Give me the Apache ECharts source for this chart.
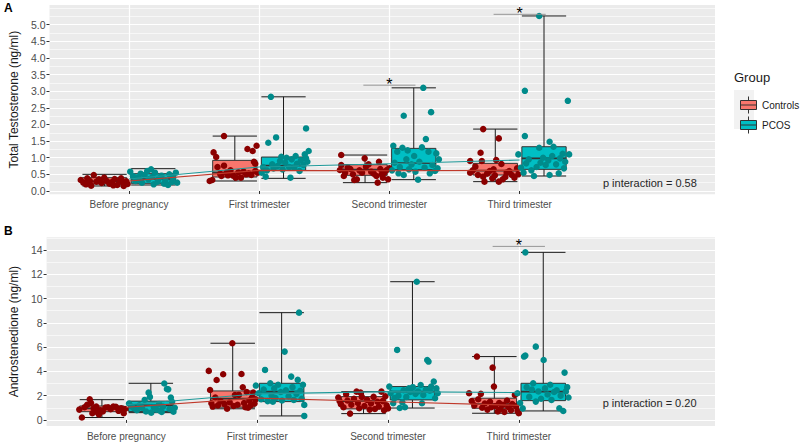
<!DOCTYPE html>
<html><head><meta charset="utf-8">
<script src="https://cdn.jsdelivr.net/npm/echarts@6/dist/echarts.min.js"></script>
<style>html,body{margin:0;padding:0;background:#fff}#c{width:800px;height:444px}</style>
</head><body><div id="c"></div>
<script>
// ---------- data ----------
const categories = ['Before pregnancy', 'First trimester', 'Second trimester', 'Third trimester'];
const groups = ['Controls', 'PCOS'];

// box statistics per category: [min, q1, median, q3, max]
const ttBoxControls = [[0.15,0.21,0.29,0.40,0.50],[0.30,0.42,0.55,0.92,1.65],[0.25,0.47,0.64,0.79,1.08],[0.28,0.48,0.61,0.83,1.86]];
const ttBoxPCOS     = [[0.18,0.23,0.36,0.52,0.67],[0.38,0.62,0.76,1.02,2.83],[0.34,0.64,0.84,1.28,3.10],[0.45,0.65,0.98,1.33,5.26]];
const anBoxControls = [[0.20,0.68,0.95,1.15,1.67],[0.92,1.05,1.75,2.39,6.32],[0.52,0.91,1.55,1.92,2.33],[0.55,0.96,1.30,1.79,5.22]];
const anBoxPCOS     = [[0.60,0.70,1.20,1.55,3.02],[0.33,1.51,2.33,3.02,8.84],[0.98,1.65,2.33,2.75,11.39],[0.74,1.59,2.33,3.02,13.81]];

// group summary lines (value per category)
const ttLineControls = [0.30,0.62,0.61,0.62];
const ttLinePCOS     = [0.36,0.72,0.82,0.93];
const anLineControls = [1.05,1.80,1.50,1.20];
const anLinePCOS     = [1.25,2.15,2.33,2.25];

// jittered observations [x, value]
const ttPtsControls = [
[0.63,0.33],[0.65,0.25],[0.67,0.20],[0.68,0.38],[0.70,0.30],[0.71,0.16],[0.73,0.48],[0.75,0.28],[0.77,0.35],[0.79,0.24],[0.81,0.40],[0.83,0.30],[0.85,0.22],[0.87,0.27],[0.88,0.17],[0.89,0.36],[0.91,0.18],[0.93,0.32],[0.94,0.38],[0.95,0.26],[0.96,0.15],[0.98,0.29],[0.99,0.21],
[1.62,0.30],[1.64,0.33],[1.65,1.16],[1.67,1.02],[1.68,0.72],[1.70,0.52],[1.71,0.45],[1.73,1.65],[1.73,0.76],[1.75,0.55],[1.76,0.47],[1.78,0.62],[1.80,0.46],[1.82,0.40],[1.84,0.56],[1.86,0.40],[1.88,0.58],[1.90,0.50],[1.91,1.26],[1.92,0.53],[1.94,0.48],[1.95,1.20],[1.96,0.88],[1.97,0.82],[1.98,1.36],[1.99,0.55],[1.97,0.60],
[2.62,0.63],[2.63,1.08],[2.63,0.78],[2.65,0.45],[2.66,0.55],[2.68,0.70],[2.70,0.66],[2.72,0.50],[2.73,0.33],[2.75,0.35],[2.77,0.62],[2.79,0.55],[2.81,0.98],[2.82,0.73],[2.84,0.80],[2.86,0.58],[2.88,0.52],[2.90,0.45],[2.91,0.25],[2.92,0.88],[2.93,0.66],[2.94,0.50],[2.95,0.40],[2.96,0.55],[2.98,0.63],[2.99,0.35],[3.00,0.68],
[3.62,0.90],[3.62,0.55],[3.64,0.62],[3.66,0.73],[3.68,0.48],[3.70,1.15],[3.71,0.90],[3.72,1.86],[3.72,0.43],[3.73,0.28],[3.75,0.52],[3.77,0.60],[3.79,0.38],[3.80,0.65],[3.81,0.47],[3.82,0.93],[3.84,1.58],[3.84,0.28],[3.86,0.81],[3.87,0.35],[3.89,0.42],[3.90,0.55],[3.92,0.60],[3.94,0.48],[3.96,0.40],[3.98,0.68],[3.99,0.50]
];
const ttPtsPCOS = [
[1.01,0.58],[1.03,0.45],[1.05,0.30],[1.07,0.40],[1.08,0.35],[1.09,0.52],[1.10,0.25],[1.12,0.48],[1.14,0.60],[1.15,0.35],[1.17,0.65],[1.18,0.42],[1.19,0.20],[1.20,0.55],[1.22,0.28],[1.23,0.38],[1.25,0.46],[1.27,0.22],[1.28,0.32],[1.30,0.18],[1.31,0.50],[1.33,0.27],[1.34,0.40],[1.36,0.55],[1.37,0.25],
[2.02,0.55],[2.03,0.72],[2.05,0.43],[2.06,0.62],[2.07,1.45],[2.09,2.83],[2.10,0.80],[2.11,0.68],[2.13,1.61],[2.14,0.75],[2.16,0.90],[2.17,1.03],[2.18,0.65],[2.20,0.85],[2.21,1.00],[2.23,0.72],[2.24,0.40],[2.25,0.95],[2.27,0.70],[2.28,1.05],[2.29,0.82],[2.31,0.60],[2.32,0.92],[2.34,0.78],[2.35,1.10],[2.36,1.88],[2.36,0.98],[2.37,0.88],[2.38,1.20],
[3.02,0.62],[3.03,1.36],[3.04,0.85],[3.06,1.18],[3.07,0.53],[3.08,0.72],[3.10,1.30],[3.11,2.26],[3.11,0.48],[3.13,0.95],[3.14,1.22],[3.15,0.65],[3.17,0.80],[3.19,1.05],[3.20,0.58],[3.22,0.34],[3.23,0.88],[3.25,1.31],[3.26,3.10],[3.27,0.70],[3.28,1.56],[3.30,1.18],[3.31,0.53],[3.32,2.37],[3.33,0.78],[3.35,0.60],[3.36,1.13],[3.37,0.68],[3.38,0.95],
[3.99,1.10],[4.01,0.70],[4.03,0.55],[4.04,3.01],[4.04,1.65],[4.05,0.83],[4.07,0.95],[4.09,0.62],[4.11,0.45],[4.13,0.72],[4.15,5.26],[4.15,1.30],[4.16,0.85],[4.18,1.00],[4.20,0.78],[4.22,0.92],[4.23,0.48],[4.23,1.48],[4.25,1.05],[4.26,1.33],[4.28,0.80],[4.30,0.53],[4.31,0.98],[4.33,1.12],[4.34,0.68],[4.35,0.88],[4.37,2.71],[4.38,1.10]
];
const anPtsControls = [
[0.64,0.85],[0.66,0.20],[0.68,1.05],[0.70,1.25],[0.72,1.70],[0.73,1.40],[0.74,0.55],[0.75,0.95],[0.77,1.10],[0.78,0.62],[0.79,0.45],[0.80,0.80],[0.82,0.70],[0.84,1.02],[0.86,1.05],[0.88,0.88],[0.90,1.10],[0.92,1.08],[0.94,0.75],[0.96,0.95],[0.98,0.55],[0.99,0.90],
[1.63,4.04],[1.64,2.47],[1.65,1.37],[1.66,1.10],[1.68,1.85],[1.69,3.29],[1.70,1.20],[1.72,1.55],[1.74,3.76],[1.75,1.30],[1.77,0.92],[1.79,1.45],[1.81,6.32],[1.82,1.15],[1.83,2.05],[1.85,1.25],[1.86,2.06],[1.88,3.79],[1.89,2.69],[1.90,1.40],[1.91,1.05],[1.92,2.30],[1.93,1.00],[1.94,1.60],[1.95,1.20],[1.96,1.85],[1.97,2.25],[1.98,1.35],[1.99,1.70],
[2.62,1.85],[2.63,1.55],[2.64,1.30],[2.66,1.05],[2.68,2.12],[2.69,1.60],[2.71,0.52],[2.72,1.25],[2.74,1.75],[2.76,2.33],[2.77,1.40],[2.78,0.96],[2.79,2.25],[2.80,1.90],[2.82,1.15],[2.84,1.65],[2.86,0.85],[2.87,1.35],[2.89,1.90],[2.90,0.90],[2.92,1.50],[2.93,1.10],[2.95,2.33],[2.96,1.55],[2.97,0.80],[2.98,1.95],[2.99,1.20],[3.00,0.95],
[3.62,2.20],[3.64,1.55],[3.66,1.20],[3.68,5.22],[3.69,1.70],[3.71,2.15],[3.72,1.00],[3.74,1.35],[3.76,0.85],[3.78,1.50],[3.79,1.05],[3.80,4.31],[3.81,2.75],[3.82,1.15],[3.84,0.70],[3.85,1.40],[3.86,0.90],[3.88,1.25],[3.89,0.65],[3.91,1.60],[3.92,1.05],[3.94,0.80],[3.95,1.30],[3.97,2.06],[3.98,1.10],[3.99,0.75],[4.00,0.55]
];
const anPtsPCOS = [
[1.02,1.35],[1.04,1.10],[1.06,0.95],[1.08,0.80],[1.10,1.20],[1.12,1.00],[1.14,1.65],[1.15,0.70],[1.17,2.25],[1.18,1.90],[1.19,0.60],[1.21,1.05],[1.23,0.85],[1.25,1.30],[1.26,0.75],[1.27,0.65],[1.28,1.10],[1.29,3.00],[1.31,2.55],[1.32,2.52],[1.33,0.90],[1.34,1.85],[1.35,1.50],[1.36,0.68],[1.37,1.00],
[1.99,2.83],[2.01,2.20],[2.03,1.70],[2.05,2.50],[2.06,4.12],[2.08,1.55],[2.10,3.02],[2.11,2.00],[2.12,1.50],[2.13,2.60],[2.14,1.80],[2.16,2.90],[2.18,2.30],[2.19,1.60],[2.21,5.63],[2.22,2.45],[2.24,1.95],[2.26,3.57],[2.27,2.70],[2.28,1.65],[2.30,2.15],[2.31,3.30],[2.32,8.84],[2.33,2.40],[2.34,1.75],[2.35,2.90],[2.36,1.24],[2.36,0.33],
[3.01,2.75],[3.02,2.20],[3.04,1.37],[3.05,1.80],[3.07,5.77],[3.08,2.00],[3.09,0.98],[3.11,1.45],[3.12,2.45],[3.13,1.05],[3.14,1.90],[3.16,2.60],[3.17,2.30],[3.19,2.70],[3.21,2.15],[3.22,11.39],[3.23,2.35],[3.25,2.88],[3.26,1.37],[3.27,2.05],[3.29,2.50],[3.30,4.94],[3.31,4.81],[3.32,2.40],[3.33,2.75],[3.35,3.16],[3.36,1.79],[3.37,2.60],[3.38,2.20],
[3.99,2.20],[4.01,1.40],[4.03,0.95],[4.04,5.22],[4.05,5.30],[4.05,13.81],[4.06,2.70],[4.08,1.90],[4.10,2.50],[4.11,3.02],[4.13,6.04],[4.13,1.51],[4.15,2.35],[4.17,1.75],[4.19,4.94],[4.20,2.60],[4.22,2.10],[4.24,2.90],[4.25,1.65],[4.27,2.30],[4.29,2.45],[4.31,0.96],[4.32,2.00],[4.34,0.74],[4.35,3.90],[4.36,2.35],[4.37,2.70],[4.38,1.85]
];

// significance marks: [category index (1-based), bar height]
const ttSignif = [[3, 3.18], [4, 5.31]];
const anSignif = [[4, 14.3]];

// y tick labels
const ttTicks = [0,0.5,1,1.5,2,2.5,3,3.5,4,4.5,5];
const anTicks = [0,2,4,6,8,10,12,14];
const ttMinor = [0.25,0.75,1.25,1.75,2.25,2.75,3.25,3.75,4.25,4.75,5.25,5.5];
const anMinor = [1,3,5,7,9,11,13,15];

const pLabels = ['p interaction = 0.58', 'p interaction = 0.20'];
const yTitles = ['Total Testosterone (ng/ml)', 'Androstenedione (ng/ml)'];
const panelTags = ['A', 'B'];

// ---------- styling ----------
const FONT = '"Liberation Sans", Arial, Helvetica, sans-serif';
const DODGE = 0.187, BOX_W = 0.34;
const fillCol = { Controls: '#F8766D', PCOS: '#00BFC4' };
const ptCol = { Controls: '#8B0000', PCOS: '#008B8B' };
const lnCol = { Controls: '#C0392B', PCOS: '#1F9A9A' };

function boxSeries(name, stats, sign, gi) {
  const fill = fillCol[name];
  return {
    name: name, type: 'custom', xAxisIndex: gi, yAxisIndex: gi * 2, z: 3,
    itemStyle: { color: fill },
    encode: { x: 0, y: [1, 2, 3, 4, 5] },
    data: stats.map((s, i) => [i + 1 + sign * DODGE].concat(s)),
    renderItem: function (params, api) {
      const x = api.value(0);
      const w = api.size([BOX_W, 0])[0];
      const cx = api.coord([x, 0])[0];
      const l = cx - w / 2, r = cx + w / 2;
      const yLo = api.coord([x, api.value(1)])[1];
      const yQ1 = api.coord([x, api.value(2)])[1];
      const yMd = api.coord([x, api.value(3)])[1];
      const yQ3 = api.coord([x, api.value(4)])[1];
      const yHi = api.coord([x, api.value(5)])[1];
      const k = { stroke: '#1a1a1a', lineWidth: 1 };
      return { type: 'group', children: [
        { type: 'line', shape: { x1: cx, y1: yHi, x2: cx, y2: yLo }, style: k },
        { type: 'line', shape: { x1: l, y1: yHi, x2: r, y2: yHi }, style: k },
        { type: 'line', shape: { x1: l, y1: yLo, x2: r, y2: yLo }, style: k },
        { type: 'rect', shape: { x: l, y: yQ3, width: w, height: yQ1 - yQ3 }, style: { fill: fill, stroke: '#333333', lineWidth: 1 } },
        { type: 'line', shape: { x1: l, y1: yMd, x2: r, y2: yMd }, style: { stroke: '#333333', lineWidth: 1.7 } }
      ] };
    }
  };
}
function pointSeries(name, pts, gi) {
  return { type: 'scatter', xAxisIndex: gi, yAxisIndex: gi * 2, z: 4, symbolSize: 6.5,
    itemStyle: { color: ptCol[name], opacity: 1 }, data: pts, silent: true };
}
function lineSeries(name, vals, gi) {
  return { type: 'line', xAxisIndex: gi, yAxisIndex: gi * 2, z: 5, symbol: 'none', silent: true,
    lineStyle: { color: lnCol[name], width: 1.1 }, data: vals.map((v, i) => [i + 1, v]) };
}
function signifSeries(marks, gi) {
  return { type: 'custom', xAxisIndex: gi, yAxisIndex: gi * 2, z: 6, silent: true,
    data: marks,
    renderItem: function (params, api) {
      const c = api.value(0), y = api.value(1);
      const p1 = api.coord([c - 0.2, y]), p2 = api.coord([c + 0.2, y]), pc = api.coord([c, y]);
      return { type: 'group', children: [
        { type: 'line', shape: { x1: p1[0], y1: p1[1], x2: p2[0], y2: p2[1] }, style: { stroke: '#8c8c8c', lineWidth: 0.9 } },
        { type: 'text', x: pc[0], y: pc[1] - 1, style: { text: '*', fontSize: 16, fontFamily: FONT, fill: '#000', align: 'center', verticalAlign: 'middle' } }
      ] };
    } };
}
function pSeries(label, yPos, gi) {
  return { type: 'custom', xAxisIndex: gi, yAxisIndex: gi * 2, z: 6, silent: true,
    data: [[5, yPos]],
    renderItem: function (params, api) {
      const p = api.coord([api.value(0), api.value(1)]);
      return { type: 'text', x: p[0], y: p[1], style: { text: label, fontSize: 11, fontFamily: FONT, fill: '#262626', align: 'center', verticalAlign: 'middle' } };
    } };
}

const gridsPx = [{ top: 5, height: 189.3 }, { top: 237.3, height: 188.7 }];
const yRanges = [[-0.1, 5.59], [-0.5, 15.05]];
const majors = [ttTicks, anTicks], minors = [ttMinor, anMinor];

const grid = gridsPx.map(g => ({ left: 35, right: 85, top: g.top, height: g.height, show: true, backgroundColor: '#EBEBEB', borderWidth: 0 }));
const xAxis = [0, 1].map(gi => ({
  gridIndex: gi, type: 'value', min: 0.39, max: 5.5,
  axisLine: { show: false },
  axisTick: { show: true, customValues: [1, 2, 3, 4], length: 3, lineStyle: { color: '#333333', width: 1 } },
  axisLabel: { customValues: [1, 2, 3, 4], color: '#4D4D4D', fontSize: 10, fontFamily: FONT, margin: 5,
    formatter: v => categories[Math.round(v) - 1] || '' },
  splitLine: { show: true, lineStyle: { color: '#FFFFFF', width: 1.2 } }
}));
const yAxis = [];
[0, 1].forEach(gi => {
  yAxis.push({
    gridIndex: gi, type: 'value', min: yRanges[gi][0], max: yRanges[gi][1],
    name: yTitles[gi], nameLocation: 'middle', nameGap: 23,
    nameTextStyle: { fontSize: 12, color: '#1a1a1a', fontFamily: FONT },
    axisLine: { show: false },
    axisTick: { show: true, customValues: majors[gi], length: 3, lineStyle: { color: '#333333' } },
    axisLabel: { customValues: majors[gi], color: '#4D4D4D', fontSize: 10.5, fontFamily: FONT, margin: 4,
      formatter: v => gi === 0 ? v.toFixed(1) : String(Math.round(v)) },
    splitLine: { show: true, lineStyle: { color: '#FFFFFF', width: 1.2 } }
  });
  yAxis.push({
    gridIndex: gi, type: 'value', min: yRanges[gi][0], max: yRanges[gi][1], position: 'left',
    axisLine: { show: false }, axisTick: { show: false, customValues: minors[gi] },
    axisLabel: { show: false, customValues: minors[gi] },
    splitLine: { show: true, lineStyle: { color: '#FFFFFF', width: 0.6 } }
  });
});

const ICON = 'path://M1,4L17,4L17,13L1,13Z M1,8.5L17,8.5 M9,0L9,4 M9,13L9,17';

const option = {
  animation: false,
  textStyle: { fontFamily: FONT },
  grid: grid, xAxis: xAxis, yAxis: yAxis,
  legend: {
    left: 735, top: 91, orient: 'vertical', itemWidth: 17, itemHeight: 17, itemGap: 2, selectedMode: false,
    textStyle: { fontSize: 10, color: '#1a1a1a', fontFamily: FONT },
    data: groups.map(g => ({ name: g, icon: ICON, itemStyle: { color: fillCol[g], borderColor: '#333333', borderWidth: 1 } }))
  },
  graphic: [
    { type: 'rect', left: 734, top: 90, z: 0, shape: { width: 20, height: 39 }, style: { fill: '#F2F2F2' } },
    { type: 'text', left: 734, top: 71, style: { text: 'Group', fontSize: 13, fontFamily: FONT, fill: '#1a1a1a' } },
    { type: 'text', left: 4, top: 2, style: { text: panelTags[0], fontSize: 12, fontWeight: 'bold', fontFamily: FONT, fill: '#000' } },
    { type: 'text', left: 4, top: 225, style: { text: panelTags[1], fontSize: 12, fontWeight: 'bold', fontFamily: FONT, fill: '#000' } }
  ],
  series: [
    boxSeries('Controls', ttBoxControls, -1, 0), boxSeries('PCOS', ttBoxPCOS, 1, 0),
    boxSeries('Controls', anBoxControls, -1, 1), boxSeries('PCOS', anBoxPCOS, 1, 1),
    pointSeries('Controls', ttPtsControls, 0), pointSeries('PCOS', ttPtsPCOS, 0),
    pointSeries('Controls', anPtsControls, 1), pointSeries('PCOS', anPtsPCOS, 1),
    lineSeries('Controls', ttLineControls, 0), lineSeries('PCOS', ttLinePCOS, 0),
    lineSeries('Controls', anLineControls, 1), lineSeries('PCOS', anLinePCOS, 1),
    signifSeries(ttSignif, 0), signifSeries(anSignif, 1),
    pSeries(pLabels[0], 0.24, 0), pSeries(pLabels[1], 1.43, 1)
  ]
};
const chart = echarts.init(document.getElementById('c'), null, { renderer: 'svg' });
chart.setOption(option);
</script>
</body></html>
